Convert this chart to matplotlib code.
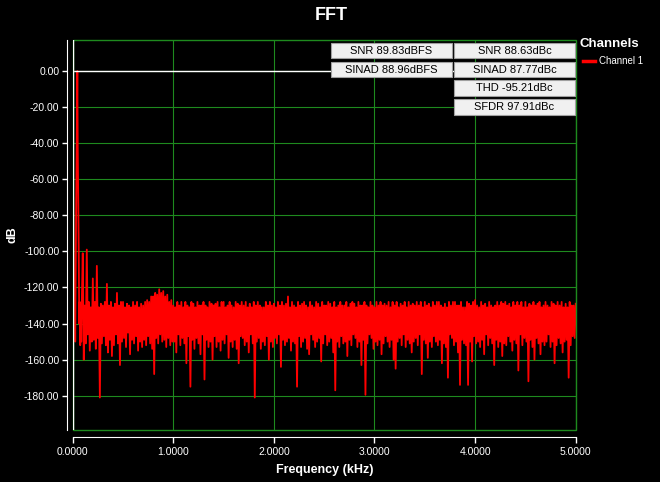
import matplotlib as mpl
mpl.use('Agg')
import numpy as np
import matplotlib.pyplot as plt
from matplotlib.patches import Rectangle

plt.rcParams['font.family'] = ['Liberation Sans', 'DejaVu Sans']

# ---- data ----
# carrier region near DC (kHz, dB)
low_freq = [0.000, 0.005, 0.010, 0.015, 0.020, 0.025, 0.030, 0.035, 0.040,
            0.046, 0.050, 0.055, 0.060, 0.065, 0.070, 0.075, 0.080, 0.085, 0.090]
low_db = [-67, -70, -108, -135, -122, -150, -110, -70, -42,
          0, -42, -70, -100, -140, -128, -152, -129, -150, -130]

# noise floor, one row per 0.1 kHz, bins every 0.01 kHz starting at 0.10 kHz
bin_step = 0.01
bulk_start = 0.10
bulk_rows = """
-101 -160 -130 -151  -99 -146 -128 -155 -131 -150
-115 -149 -128 -154 -108 -148 -131 -181 -129 -151
-130 -147 -128 -152 -118 -156 -130 -149 -128 -158
-131 -152 -129 -146 -123 -151 -130 -163 -128 -150
-128 -148 -131 -153 -129 -145 -130 -157 -131 -149
-128 -151 -130 -147 -128 -155 -131 -150 -129 -153
-130 -149 -128 -152 -127 -147 -128 -151 -125 -154
-125 -168 -123 -148 -124 -151 -121 -146 -123 -150
-122 -149 -125 -153 -124 -148 -128 -152 -127 -150
-130 -150 -131 -156 -128 -146 -130 -152 -128 -148
-131 -151 -128 -162 -130 -147 -131 -175 -128 -149
-129 -154 -131 -148 -128 -151 -130 -157 -130 -146
-128 -171 -130 -149 -131 -153 -128 -150 -129 -160
-130 -147 -129 -153 -128 -150 -131 -155 -128 -149
-128 -151 -131 -146 -130 -159 -128 -150 -130 -153
-131 -149 -128 -154 -129 -162 -130 -147 -128 -148
-130 -152 -128 -150 -131 -156 -129 -146 -131 -151
-128 -181 -130 -150 -128 -148 -130 -154 -131 -150
-131 -152 -128 -147 -130 -160 -128 -150 -130 -153
-129 -148 -131 -151 -128 -146 -130 -164 -128 -149
-130 -152 -129 -150 -125 -148 -131 -155 -128 -150
-130 -151 -131 -175 -128 -147 -130 -153 -129 -150
-128 -148 -130 -154 -131 -157 -128 -146 -130 -149
-131 -153 -128 -150 -129 -148 -131 -161 -128 -151
-130 -146 -130 -152 -128 -150 -129 -148 -131 -156
-128 -177 -131 -150 -130 -153 -128 -147 -130 -151
-130 -150 -128 -158 -131 -149 -129 -152 -128 -146
-129 -148 -131 -153 -128 -150 -130 -163 -130 -149
-128 -179.5 -130 -151 -131 -146 -128 -148 -130 -154
-131 -150 -128 -152 -130 -149 -128 -157 -130 -151
-129 -147 -130 -150 -128 -153 -131 -149 -128 -160
-130 -165 -128 -150 -131 -148 -129 -152 -130 -146
-128 -153 -131 -149 -128 -151 -130 -156 -129 -150
-130 -148 -128 -152 -130 -146 -128 -168 -131 -149
-128 -151 -130 -159 -129 -150 -131 -153 -128 -147
-130 -150 -128 -152 -128 -149 -130 -162 -131 -151
-129 -153 -131 -170 -128 -146 -130 -148 -128 -152
-128 -150 -130 -156 -130 -174 -128 -149 -131 -151
-131 -152 -128 -174 -129 -150 -130 -161 -128 -147
-127 -151 -130 -150 -131 -153 -128 -149 -130 -157
-129 -146 -131 -152 -128 -148 -130 -151 -131 -163
-130 -149 -128 -153 -130 -150 -128 -158 -129 -151
-128 -152 -130 -147 -129 -150 -131 -155 -128 -149
-130 -151 -128 -166 -130 -146 -128 -152 -131 -148
-128 -150 -131 -172 -129 -149 -130 -153 -128 -160
-130 -148 -129 -151 -128 -157 -131 -150 -130 -152
-128 -150 -130 -146 -131 -153 -128 -150 -129 -162
-130 -152 -128 -148 -130 -151 -128 -156 -131 -150
-129 -149 -131 -170 -128 -152 -130 -147 -130 -148
-129
"""
bulk_db = np.array(bulk_rows.split(), dtype=float)
bulk_freq = bulk_start + bin_step * np.arange(len(bulk_db))

freq = np.concatenate([low_freq, bulk_freq])
mag_db = np.concatenate([low_db, bulk_db])

box_texts = [["SNR 89.83dBFS", "SNR 88.63dBc"],
             ["SINAD 88.96dBFS", "SINAD 87.77dBc"],
             [None, "THD -95.21dBc"],
             [None, "SFDR 97.91dBc"]]

y_ticks = np.arange(-180, 1, 20)
x_ticks = np.arange(0, 6, 1)

W, H = 660, 482
grid_c = '#1e8a1e'

fig = plt.figure(figsize=(W / 100, H / 100), dpi=100, facecolor='black')
ax = fig.add_axes([72.7 / W, 1 - 430 / H, 503 / W, 390 / H], facecolor='black')

ax.plot(freq, mag_db, color='#ff0000', lw=1.3, zorder=3)
ax.axhline(0, color='white', lw=1, zorder=4)

ax.set_xlim(0, 5)
ax.set_ylim(-199, 17.2)
ax.set_xticks(x_ticks)
ax.set_yticks(y_ticks)
ax.set_xticklabels(['%.4f' % v for v in x_ticks])
ax.set_yticklabels(['%.2f' % v for v in y_ticks])
ax.grid(True, color=grid_c, lw=0.8, zorder=1)
ax.set_axisbelow(True)

for s in ['top', 'right']:
    ax.spines[s].set_visible(False)
ax.spines['left'].set_position(('outward', 4))
ax.spines['bottom'].set_position(('outward', 5))
ax.spines['left'].set_color('white')
ax.spines['bottom'].set_color('white')
ax.tick_params(axis='y', colors='white', labelsize=7.5, length=3.6, width=1, pad=2)
ax.tick_params(axis='x', colors='white', labelsize=7.5, length=4.3, width=1, pad=3)

# plot area border: green, with a white left edge
ax.add_patch(Rectangle((0, 0), 1, 1, transform=ax.transAxes, fill=False,
                       edgecolor=grid_c, lw=1, clip_on=False, zorder=5))
ax.axvline(0, color='white', lw=1, zorder=6)

fig.text(331 / W, 1 - 16 / H, 'FFT', color='white', fontsize=13,
         fontweight='bold', ha='center', va='center')
fig.text(325 / W, 1 - 470 / H, 'Frequency (kHz)', color='white', fontsize=9,
         fontweight='bold', ha='center', va='center')
fig.text(12 / W, 1 - 235 / H, 'dB', color='white', fontsize=9,
         fontweight='bold', ha='center', va='center', rotation=90)

# measurement boxes
col_x = [331, 454]
box_w = 121
row_y = [42.7, 61.7, 80, 99]
box_h = 15.6
for r, row in enumerate(box_texts):
    for c, txt in enumerate(row):
        if txt is None:
            continue
        x0, y0 = col_x[c], row_y[r]
        fig.patches.append(Rectangle((x0 / W, 1 - (y0 + box_h) / H), box_w / W, box_h / H,
                                     transform=fig.transFigure, facecolor='#f0f0f0',
                                     edgecolor='#a0a0a0', lw=0.8, zorder=10))
        fig.text((x0 + box_w / 2) / W, 1 - (y0 + box_h / 2 + 0.5) / H, txt,
                 color='black', fontsize=8, ha='center', va='center', zorder=11)

# legend
fig.text(580 / W, 1 - 44 / H, 'Channels', color='white', fontsize=9.5,
         fontweight='bold', ha='left', va='center')
fig.lines.append(plt.Line2D([583 / W, 595 / W], [1 - 61 / H, 1 - 61 / H],
                            transform=fig.transFigure, color='#ff0000', lw=2.5))
fig.text(599 / W, 1 - 61 / H, 'Channel 1', color='white', fontsize=7,
         ha='left', va='center')

fig.savefig('out.png', dpi=100, facecolor='black')
